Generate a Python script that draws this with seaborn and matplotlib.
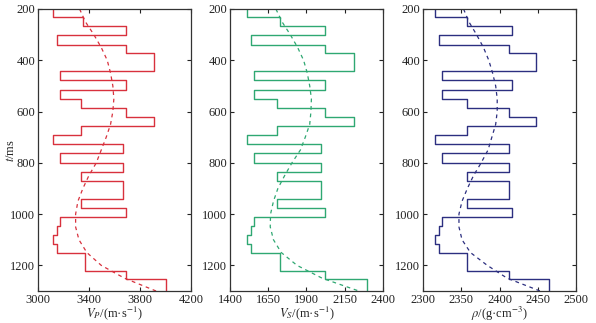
import numpy as np
import pandas as pd
import matplotlib
matplotlib.use("Agg")
import matplotlib.pyplot as plt
import seaborn as sns

# Layer boundaries (ms)
bounds = [200, 230, 265, 302, 339, 371, 443, 478, 515, 550, 586, 622, 657, 693,
          727, 763, 800, 836, 871, 942, 977, 1010, 1045, 1080, 1116, 1151, 1221,
          1254, 1300]

vp_layers = [3120, 3355, 3690, 3150, 3690, 3910, 3175, 3690, 3175, 3340, 3690,
             3910, 3340, 3120, 3665, 3175, 3665, 3340, 3665, 3340, 3690, 3175,
             3150, 3120, 3150, 3365, 3690, 4005]
vs_layers = [1514, 1728, 2019, 1536, 2019, 2212, 1560, 2019, 1560, 1706, 2019,
             2212, 1706, 1514, 1995, 1560, 1995, 1706, 1995, 1706, 2019, 1560,
             1536, 1514, 1536, 1728, 2019, 2297]
rho_layers = [2316, 2357, 2416, 2321, 2412, 2448, 2325, 2416, 2325, 2357, 2412,
              2448, 2357, 2316, 2412, 2325, 2412, 2357, 2412, 2357, 2416, 2325,
              2321, 2316, 2321, 2357, 2412, 2465]

# Smooth (dashed) background models
t_smooth = [200, 250, 300, 350, 400, 450, 500, 550, 600, 650, 700, 750, 800,
            850, 900, 950, 1000, 1050, 1100, 1150, 1200, 1250, 1300]
vp_smooth = [3326, 3372, 3438, 3496, 3543, 3569, 3587, 3595, 3587, 3569, 3535,
             3496, 3457, 3399, 3352, 3313, 3295, 3295, 3321, 3383, 3496, 3678, 3926]
vs_smooth = [1700, 1740, 1794, 1842, 1881, 1905, 1921, 1932, 1929, 1921, 1892,
             1860, 1805, 1757, 1713, 1684, 1665, 1663, 1684, 1735, 1838, 2002, 2242]
rho_smooth = [2353, 2360, 2370, 2379, 2386, 2391, 2395, 2397, 2397, 2395, 2390,
              2385, 2376, 2366, 2358, 2351, 2347, 2347, 2351, 2362, 2384, 2410, 2453]

xlabels = [r"$V_P$/(m·s$^{-1}$)", r"$V_S$/(m·s$^{-1}$)", r"$\rho$/(g·cm$^{-3}$)"]
xlims = [(3000, 4200), (1400, 2400), (2300, 2500)]
xticks = [[3000, 3400, 3800, 4200], [1400, 1650, 1900, 2150, 2400],
          [2300, 2350, 2400, 2450, 2500]]
colors = ["#d8313d", "#2fa872", "#2c2f80"]

sns.set_theme(style="ticks")
plt.rcParams["font.family"] = ["Liberation Serif", "DejaVu Serif"]
plt.rcParams["mathtext.fontset"] = "stix"

fig = plt.figure(figsize=(5.96, 3.23), dpi=100)
lefts = [38 / 596, 230 / 596, 423 / 596]
w = 153 / 596
bottom = 1 - 291 / 323
h = (291 - 9) / 323

def step_frame(layers):
    xs, ys = [], []
    for i, v in enumerate(layers):
        xs += [v, v]
        ys += [bounds[i], bounds[i + 1]]
    return pd.DataFrame({"v": xs, "t": ys})

for k, (layers, smooth) in enumerate([(vp_layers, vp_smooth),
                                      (vs_layers, vs_smooth),
                                      (rho_layers, rho_smooth)]):
    ax = fig.add_axes([lefts[k], bottom, w, h])
    df = step_frame(layers)
    sns.lineplot(data=df, x="v", y="t", sort=False, estimator=None, ax=ax,
                 color=colors[k], linewidth=1.0)
    ds = pd.DataFrame({"v": smooth, "t": t_smooth})
    sns.lineplot(data=ds, x="v", y="t", sort=False, estimator=None, ax=ax,
                 color=colors[k], linewidth=0.9, linestyle=(0, (3, 3)))
    ax.set_xlim(*xlims[k])
    ax.set_ylim(1300, 200)
    ax.set_xticks(xticks[k])
    ax.set_yticks([200, 400, 600, 800, 1000, 1200])
    ax.tick_params(direction="in", top=True, right=True, length=3, width=0.8,
                   labelsize=9, pad=2, colors="#222222")
    for s in ax.spines.values():
        s.set_linewidth(0.9)
        s.set_color("#333333")
    ax.set_xlabel(xlabels[k], fontsize=9)
    ax.xaxis.set_label_coords(0.5, -0.048)
    if k == 0:
        ax.set_ylabel(r"$t$/ms", fontsize=9)
        ax.yaxis.set_label_coords(-0.14, 0.5)
    else:
        ax.set_ylabel("")

fig.savefig("out.png", dpi=100)
